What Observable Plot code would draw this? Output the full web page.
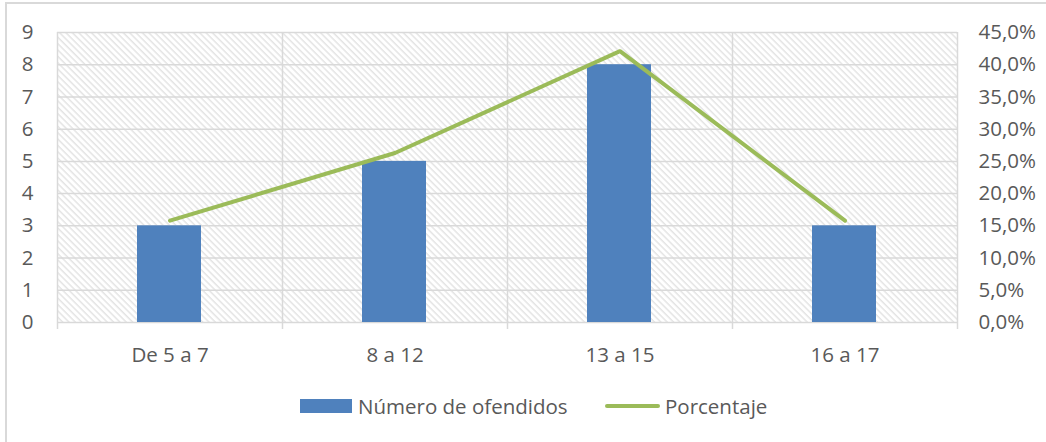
<!DOCTYPE html>
<html>
<head>
<meta charset="utf-8">
<script src="https://cdn.jsdelivr.net/npm/d3@7"></script>
<script src="https://cdn.jsdelivr.net/npm/@observablehq/plot@0.6"></script>
<style>
  html, body { margin: 0; padding: 0; background: #fff; }
  #wrap { position: relative; width: 1046px; height: 442px; overflow: hidden; font-family: "Open Sans", sans-serif; color: #595959; }
  #border { position: absolute; left: 5px; top: 2px; width: 1100px; height: 500px; border: 2px solid #d9d9d9; box-sizing: border-box; }
  #chart { position: absolute; left: 0; top: 0; }
  #legend { position: absolute; left: 0; top: 388px; width: 1046px; height: 36px; font-size: 20.5px; }
  .item { position: absolute; top: 0; height: 36px; display: flex; align-items: center; white-space: nowrap; }
  .sw-bar { width: 52px; height: 14px; background: #4F81BD; margin-right: 6px; }
  .sw-line { width: 55px; height: 4px; border-radius: 2px; background: #9BBB59; margin-right: 5px; }
</style>
</head>
<body>
<div id="wrap">
  <div id="border"></div>
  <div id="chart"></div>
  <div id="legend"></div>
</div>
<script>
const categories = ["De 5 a 7", "8 a 12", "13 a 15", "16 a 17"];
const ofendidos = [3, 5, 8, 3];
const porcentaje = [15.8, 26.3, 42.1, 15.8];
const leftTicks = [0, 1, 2, 3, 4, 5, 6, 7, 8, 9];
const rightTickLabels = ["0,0%", "5,0%", "10,0%", "15,0%", "20,0%", "25,0%", "30,0%", "35,0%", "40,0%", "45,0%"];
const seriesNames = ["Número de ofendidos", "Porcentaje"];

const data = categories.map((c, i) => ({cat: c, n: ofendidos[i], p: porcentaje[i]}));
const gridColor = "#d9d9d9";
const half = 112.5;

const chart = Plot.plot({
  width: 1046,
  height: 380,
  marginTop: 32,
  marginBottom: 58,
  marginLeft: 57,
  marginRight: 89,
  style: {fontFamily: "Open Sans, sans-serif", fontSize: "20.5px", color: "#595959", background: "transparent"},
  x: {domain: categories, padding: 0, label: null},
  y: {domain: [0, 9], label: null},
  marks: [
    Plot.frame({fill: "url(#hatch)", stroke: null}),
    Plot.gridY(leftTicks, {stroke: gridColor, strokeOpacity: 1, strokeWidth: 1.5}),
    Plot.ruleX(categories, {x: d => d, dx: -half, stroke: gridColor, strokeWidth: 1.5, insetBottom: -7}),
    Plot.ruleX(categories.slice(-1), {x: d => d, dx: half, stroke: gridColor, strokeWidth: 1.5, insetBottom: -7}),
    Plot.barY(data, {x: "cat", y: "n", fill: "#4F81BD", insetLeft: 80, insetRight: 81}),
    Plot.line(data, {x: "cat", y: d => d.p / 5, stroke: "#9BBB59", strokeWidth: 4}),
    Plot.axisY(leftTicks, {anchor: "left", tickSize: 0, tickPadding: 24, label: null}),
    Plot.axisY(leftTicks, {anchor: "right", tickSize: 0, tickPadding: 21, label: null, tickFormat: d => rightTickLabels[d]}),
    Plot.axisX({tickSize: 0, tickPadding: 25, label: null})
  ]
});

const defs = d3.select(chart).insert("defs", ":first-child");
const pat = defs.append("pattern")
  .attr("id", "hatch")
  .attr("patternUnits", "userSpaceOnUse")
  .attr("width", 4.5)
  .attr("height", 4.5)
  .attr("patternTransform", "rotate(-45)");
pat.append("line")
  .attr("x1", 1).attr("y1", 0).attr("x2", 1).attr("y2", 4.5)
  .attr("stroke", "#d6d6d6").attr("stroke-width", 1);

document.getElementById("chart").appendChild(chart);

const legend = document.getElementById("legend");
const it1 = document.createElement("div");
it1.className = "item";
it1.style.left = "300px";
it1.innerHTML = '<span class="sw-bar"></span><span></span>';
it1.lastChild.textContent = seriesNames[0];
const it2 = document.createElement("div");
it2.className = "item";
it2.style.left = "605px";
it2.innerHTML = '<span class="sw-line"></span><span></span>';
it2.lastChild.textContent = seriesNames[1];
legend.appendChild(it1);
legend.appendChild(it2);
</script>
</body>
</html>
